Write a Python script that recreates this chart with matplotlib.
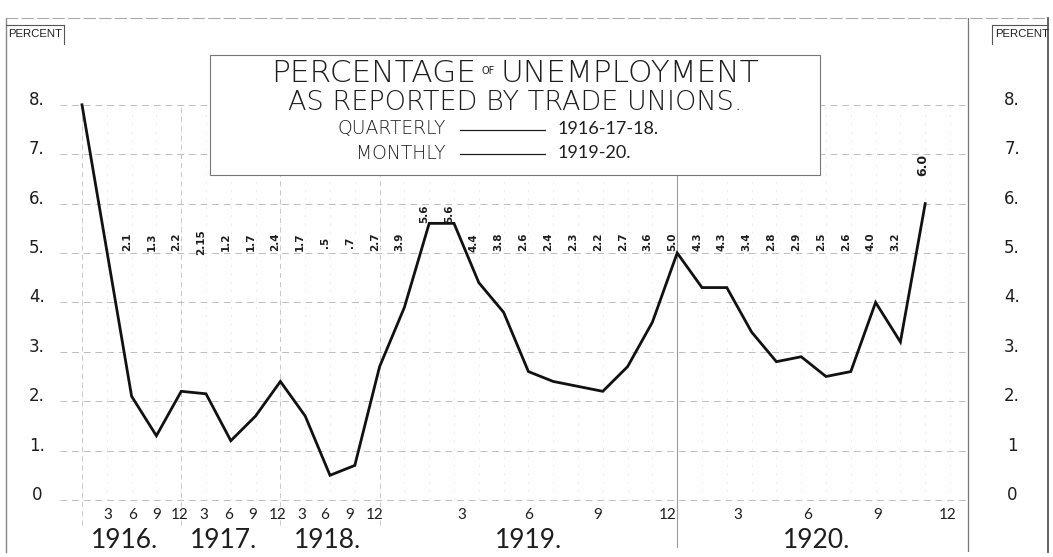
import matplotlib
matplotlib.use("Agg")
import matplotlib.pyplot as plt
import numpy as np

# ---------------- data ----------------
# position index: 0 = Dec 1915, 1..12 = quarters Mar 1916 .. Dec 1918,
# 13..36 = months Jan 1919 .. Dec 1920
point_index = [0, 2, 3, 4, 5, 6, 7, 8, 9, 10, 11, 12,
               13, 14, 15, 16, 17, 18, 19, 20, 21, 22, 23, 24,
               25, 26, 27, 28, 29, 30, 31, 32, 33, 34]
unemployment = [8.0, 2.1, 1.3, 2.2, 2.15, 1.2, 1.7, 2.4, 1.7, 0.5, 0.7, 2.7,
                3.9, 5.6, 5.6, 4.4, 3.8, 2.6, 2.4, 2.3, 2.2, 2.7, 3.6, 5.0,
                4.3, 4.3, 3.4, 2.8, 2.9, 2.5, 2.6, 4.0, 3.2, 6.0]
value_texts = [None, "2.1", "1.3", "2.2", "2.15", "1.2", "1.7", "2.4", "1.7", ".5", ".7", "2.7",
               "3.9", "5.6", "5.6", "4.4", "3.8", "2.6", "2.4", "2.3", "2.2", "2.7", "3.6", "5.0",
               "4.3", "4.3", "3.4", "2.8", "2.9", "2.5", "2.6", "4.0", "3.2", "6.0"]
month_tick_labels = ["3", "6", "9", "12", "3", "6", "9", "12", "3", "6", "9", "12",
                     "3", "6", "9", "12", "3", "6", "9", "12"]
month_tick_pos = [1.05, 2.05, 3.0, 3.95, 4.9, 5.9, 6.9, 7.9, 8.85, 9.8, 10.8, 11.8,
                  15.3, 18.0, 20.8, 23.6, 26.45, 29.25, 32.1, 34.9]
year_labels = ["1916.", "1917.", "1918.", "1919.", "1920."]
year_pos = [1.7, 5.7, 9.9, 18.0, 29.6]
y_levels = [0, 1, 2, 3, 4, 5, 6, 7, 8]
y_left_texts = ["0", "1.", "2.", "3.", "4.", "5.", "6.", "7.", "8."]
y_right_texts = ["0", "1", "2.", "3.", "4.", "5.", "6.", "7.", "8."]

# ---------------- layout ----------------
W, H = 1053, 557
plt.rcParams["font.family"] = ["DejaVu Sans"]
DJ = ["DejaVu Sans"]
LATO = ["Lato", "DejaVu Sans"]
LIB = ["Liberation Sans", "DejaVu Sans"]
INK = "#1e1e1e"

fig = plt.figure(figsize=(W / 100, H / 100), dpi=100)
fig.patch.set_facecolor("white")

px0, step = 82.0, 24.8       # pixel of index 0, pixel per index
py0, unit = 500.0, 49.4      # pixel of value 0, pixel per unit
left_px, right_px, top_px, bot_px = 6, 1048, 18, 552
ax = fig.add_axes([left_px / W, 1 - bot_px / H, (right_px - left_px) / W, (bot_px - top_px) / H])
ax.set_xlim((left_px - px0) / step, (right_px - px0) / step)
ax.set_ylim((py0 - bot_px) / unit, (py0 - top_px) / unit)
ax.set_xticks([]); ax.set_yticks([])
ax.spines["bottom"].set_visible(False)
ax.spines["top"].set_color("#aaaaaa"); ax.spines["top"].set_linestyle((0, (10, 4)))
ax.spines["top"].set_linewidth(0.8)
ax.spines["left"].set_color("#888888"); ax.spines["left"].set_linewidth(1.0)
ax.spines["right"].set_color("#555555"); ax.spines["right"].set_linewidth(1.3)

gx0, gx1 = (60 - px0) / step, (968 - px0) / step

# horizontal grid
for yv in y_levels:
    ax.plot([gx0, gx1], [yv, yv], color="#bdbdbd", lw=0.7, ls=(0, (7, 5)), zorder=1)

# vertical grid
for xv in range(0, 36):
    ax.plot([xv, xv], [0, 8], color="#e4e4e4", lw=0.5, ls=(0, (3, 9)), zorder=1)
for xv in [0, 4, 8, 12]:
    ax.plot([xv, xv], [-0.5, 8], color="#c0c0c0", lw=0.6, ls=(0, (6, 5)), zorder=1)
ax.plot([24, 24], [-0.95, 6.6], color="#9a9a9a", lw=0.8, zorder=1)
ax.plot([gx1, gx1], [-1.05, 9.76], color="#777777", lw=0.9, zorder=1)

# data line
ax.plot(point_index, unemployment, color="#111111", lw=2.0, zorder=5,
        solid_joinstyle="miter")

# value labels
for xi, v, t in zip(point_index, unemployment, value_texts):
    if t is None:
        continue
    if t == "6.0":
        ax.text(xi - 0.1, 6.78, t, rotation=90, ha="center", va="center", family=DJ,
                fontsize=9, fontweight="bold", color=INK, zorder=6)
    elif v >= 5.5:
        ax.text(xi - 0.2, 5.8, t, rotation=90, ha="center", va="center", family=DJ,
                fontsize=7.5, fontweight="bold", color=INK, zorder=6)
    else:
        ax.text(xi - 0.2, 5.22, t, rotation=90, ha="center", va="center", family=DJ,
                fontsize=7.5, fontweight="bold", color=INK, zorder=6)

# y labels
for yv, lt, rt in zip(y_levels, y_left_texts, y_right_texts):
    ax.text((37 - px0) / step, yv + 0.1, lt, ha="center", va="center", fontsize=12,
            family=DJ, color=INK)
    ax.text((1012 - px0) / step, yv + 0.1, rt, ha="center", va="center", fontsize=12,
            family=DJ, color=INK)

# x tick labels
for xp, lab in zip(month_tick_pos, month_tick_labels):
    ax.text(xp, (py0 - 515) / unit, lab, ha="center", va="center", fontsize=11,
            family=LATO, color=INK)
for xp, lab in zip(year_pos, year_labels):
    ax.text(xp, (py0 - 541) / unit, lab, ha="center", va="center", fontsize=19,
            family=LATO, color=INK)

# PERCENT labels
def fx(p): return p / W
def fy(p): return 1 - p / H
fig.text(fx(8), fy(34), "PERCENT", ha="left", va="center", fontsize=8.2, family=LIB, color=INK)
fig.text(fx(995), fy(34), "PERCENT", ha="left", va="center", fontsize=8.2, family=LIB, color=INK)
fig.add_artist(plt.Line2D([fx(6), fx(64)], [fy(25), fy(25)], color="#555555", lw=0.8))
fig.add_artist(plt.Line2D([fx(64), fx(64)], [fy(25), fy(44)], color="#555555", lw=0.8))
fig.add_artist(plt.Line2D([fx(992), fx(1048)], [fy(25), fy(25)], color="#555555", lw=0.8))
fig.add_artist(plt.Line2D([fx(992), fx(992)], [fy(25), fy(44)], color="#555555", lw=0.8))

# title box
bx0, bx1, by0, by1 = 210, 820, 55, 175
fig.add_artist(plt.Rectangle((fx(bx0), fy(by1)), fx(bx1) - fx(bx0), fy(by0) - fy(by1),
                             facecolor="white", edgecolor="#777777", lw=0.8, zorder=10))
TW = 200
fig.text(fx(476), fy(74), "PERCENTAGE", ha="right", va="center", fontsize=22.5, family=DJ,
         fontweight=TW, color=INK, zorder=11)
fig.text(fx(488), fy(71), "OF", ha="center", va="center", fontsize=7, family=DJ, color=INK, zorder=11)
fig.text(fx(500), fy(74), "UNEMPLOYMENT", ha="left", va="center", fontsize=22.5, family=DJ,
         fontweight=TW, color=INK, zorder=11)
fig.text(fx(515), fy(102), "AS REPORTED BY TRADE UNIONS.", ha="center", va="center", fontsize=19.5,
         family=DJ, fontweight=TW, color=INK, zorder=11)
fig.text(fx(446), fy(129), "QUARTERLY", ha="right", va="center", fontsize=13.5, family=DJ,
         fontweight=TW, color=INK, zorder=11)
fig.text(fx(446), fy(153), "MONTHLY", ha="right", va="center", fontsize=13.5, family=DJ,
         fontweight=TW, color=INK, zorder=11)
fig.add_artist(plt.Line2D([fx(460), fx(545)], [fy(130), fy(130)], color=INK, lw=0.9, zorder=11))
fig.add_artist(plt.Line2D([fx(460), fx(545)], [fy(154), fy(154)], color=INK, lw=0.9, zorder=11))
fig.text(fx(558), fy(129), "1916-17-18.", ha="left", va="center", fontsize=13, family=LATO,
         color=INK, zorder=11)
fig.text(fx(558), fy(153), "1919-20.", ha="left", va="center", fontsize=13, family=LATO,
         color=INK, zorder=11)

fig.savefig("out.png", dpi=100, facecolor="white")
